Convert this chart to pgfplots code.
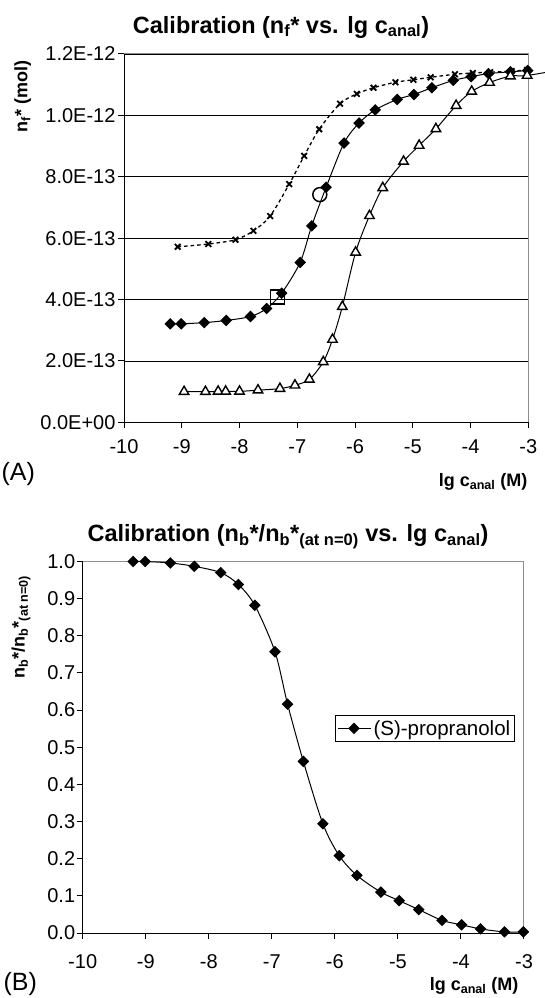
\documentclass[border=0pt]{standalone}
\usepackage{fontspec}
\setmainfont{Liberation Sans}
\usepackage{pgfplots}
\pgfplotsset{compat=1.18}
\begin{document}
\begin{tikzpicture}[x=1pt,y=1pt]
\useasboundingbox (0,0) rectangle (545,998);
% ---------------- (A) ----------------
\begin{axis}[
  at={(124pt,575.6pt)}, anchor=south west, scale only axis,
  width=404.3pt, height=368.4pt,
  xmin=-10, xmax=-3, ymin=0, ymax=1.2e-12,
  scaled y ticks=false,
  xtick={-10,-9,-8,-7,-6,-5,-4,-3},
  xticklabels={-10,-9,-8,-7,-6,-5,-4,-3},
  ytick={0,2e-13,4e-13,6e-13,8e-13,1e-12,1.2e-12},
  yticklabels={0.0E+00,2.0E-13,4.0E-13,6.0E-13,8.0E-13,1.0E-12,1.2E-12},
  ymajorgrids, major grid style={black, line width=0.9pt},
  axis x line*=bottom, axis y line*=left,
  axis line style={black, line width=1pt, -},
  tick style={black, line width=1pt},
  tick align=outside, major tick length=6pt,
  tick label style={font=\fontsize{20}{20}\selectfont},
  yticklabel style={xshift=1pt},
  xticklabel style={yshift=-8pt},
  clip=false,
]
\draw[black!45, line width=1pt] (rel axis cs:0,1) -- (rel axis cs:1,1) -- (rel axis cs:1,0);
% crosses, dashed
\addplot[black, line width=1.3pt, smooth, dash pattern=on 3.5pt off 3pt,
  mark=x, mark size=4pt, mark options={solid, line width=1.8pt}]
coordinates {
(-9.07,5.72e-13) (-8.54,5.81e-13) (-8.07,5.95e-13) (-7.76,6.24e-13) (-7.47,6.72e-13)
(-7.14,7.76e-13) (-6.88,8.68e-13) (-6.62,9.55e-13) (-6.26,10.38e-13) (-5.97,10.70e-13)
(-5.68,10.90e-13) (-5.30,11.08e-13) (-4.99,11.16e-13) (-4.69,11.24e-13) (-4.27,11.34e-13)
(-3.96,11.38e-13) (-3.66,11.41e-13) (-3.29,11.44e-13) (-3.02,11.48e-13)
};
% triangles: line (continues past the frame as in the original)
\addplot[black, line width=1pt, smooth, no marks]
coordinates {
(-8.96,1.00e-13) (-8.59,1.00e-13) (-8.37,1.01e-13) (-8.24,1.01e-13) (-8.00,1.01e-13)
(-7.68,1.05e-13) (-7.30,1.10e-13) (-7.04,1.21e-13) (-6.79,1.40e-13) (-6.55,1.97e-13)
(-6.39,2.70e-13) (-6.22,3.77e-13) (-5.99,5.54e-13) (-5.75,6.73e-13) (-5.52,7.64e-13)
(-5.16,8.50e-13) (-4.89,9.02e-13) (-4.60,9.56e-13) (-4.25,10.32e-13) (-3.98,10.78e-13)
(-3.67,11.07e-13) (-3.31,11.28e-13) (-3.02,11.30e-13) (-2.40,11.50e-13)
};
% diamonds
\addplot[black, line width=1pt, smooth,
  mark=square*, mark size=3.6pt, mark options={rotate=45, fill=black}]
coordinates {
(-9.20,3.21e-13) (-9.01,3.21e-13) (-8.61,3.25e-13) (-8.23,3.32e-13) (-7.81,3.45e-13)
(-7.53,3.71e-13) (-7.27,4.21e-13) (-6.95,5.21e-13) (-6.75,6.40e-13) (-6.50,7.66e-13)
(-6.19,9.10e-13) (-5.93,9.75e-13) (-5.65,10.18e-13) (-5.27,10.52e-13) (-4.98,10.68e-13)
(-4.67,10.90e-13) (-4.30,11.14e-13) (-3.99,11.26e-13) (-3.69,11.36e-13) (-3.31,11.42e-13)
(-3.01,11.46e-13)
};
% triangle marks
\addplot[only marks, black, mark=triangle*, mark size=5.5pt,
  mark options={fill=white, line width=1.4pt}]
coordinates {
(-8.96,1.00e-13) (-8.59,1.00e-13) (-8.37,1.01e-13) (-8.24,1.01e-13) (-8.00,1.01e-13)
(-7.68,1.05e-13) (-7.30,1.10e-13) (-7.04,1.21e-13) (-6.79,1.40e-13) (-6.55,1.97e-13)
(-6.39,2.70e-13) (-6.22,3.77e-13) (-5.99,5.54e-13) (-5.75,6.73e-13) (-5.52,7.64e-13)
(-5.16,8.50e-13) (-4.89,9.02e-13) (-4.60,9.56e-13) (-4.25,10.32e-13) (-3.98,10.78e-13)
(-3.67,11.07e-13) (-3.31,11.28e-13) (-3.02,11.30e-13)
};
% open square and open circle
\addplot[only marks, black, mark=square, mark size=7pt, mark options={line width=1.5pt}]
coordinates {(-7.34,4.08e-13)};
\addplot[only marks, black, mark=o, mark size=7pt, mark options={line width=1.5pt}]
coordinates {(-6.61,7.42e-13)};
\end{axis}
\node[font=\bfseries\fontsize{23.5}{23.5}\selectfont] at (281,971) {Calibration (n\textsubscript{f}* vs. lg c\textsubscript{anal})};
\node[rotate=90, anchor=east, font=\bfseries\fontsize{18}{18}\selectfont] at (22.6,941) {n\textsubscript{f}* (mol)};
\node[anchor=west, font=\fontsize{25}{25}\selectfont] at (-2,524) {(A)};
\node[anchor=east, font=\bfseries\fontsize{18}{18}\selectfont] at (531,516) {lg c\textsubscript{anal} (M)};
% ---------------- (B) ----------------
\begin{axis}[
  at={(82.7pt,65pt)}, anchor=south west, scale only axis,
  width=441.3pt, height=371.5pt,
  xmin=-10, xmax=-3, ymin=0, ymax=1,
  xtick={-10,-9,-8,-7,-6,-5,-4,-3},
  xticklabels={-10,-9,-8,-7,-6,-5,-4,-3},
  ytick={0,0.1,0.2,0.3,0.4,0.5,0.6,0.7,0.8,0.9,1},
  yticklabels={0.0,0.1,0.2,0.3,0.4,0.5,0.6,0.7,0.8,0.9,1.0},
  axis x line*=bottom, axis y line*=left,
  axis line style={black, line width=1pt, -},
  tick style={black, line width=1pt},
  tick align=outside, major tick length=6pt,
  tick label style={font=\fontsize{20}{20}\selectfont},
  yticklabel style={xshift=2pt},
  xticklabel style={yshift=-12pt},
  clip=false,
  legend style={at={(0.572,0.586)}, anchor=north west, draw=black, line width=0.8pt,
    fill=white, font=\fontsize{20.5}{20.5}\selectfont, inner xsep=2pt, inner ysep=2.5pt},
  legend cell align=left,
  legend image code/.code={\draw[#1, mark repeat=2, mark phase=2]
    plot coordinates {(0pt,0pt) (16pt,0pt) (33pt,0pt)};},
]
\draw[black!45, line width=1pt] (rel axis cs:0,1) -- (rel axis cs:1,1) -- (rel axis cs:1,0);
\addplot[black, line width=1pt, smooth,
  mark=square*, mark size=3.6pt, mark options={rotate=45, fill=black}]
coordinates {
(-9.20,1.000) (-9.01,1.000) (-8.61,0.996) (-8.23,0.987) (-7.81,0.970)
(-7.53,0.938) (-7.27,0.882) (-6.95,0.757) (-6.75,0.616) (-6.50,0.462)
(-6.19,0.294) (-5.93,0.208) (-5.65,0.155) (-5.27,0.110) (-4.98,0.087)
(-4.67,0.063) (-4.30,0.034) (-3.99,0.022) (-3.69,0.011) (-3.31,0.003)
(-3.01,0.003)
};
\addlegendentry{(S)-propranolol}
\end{axis}
\node[font=\bfseries\fontsize{23.5}{23.5}\selectfont] at (288,461) {Calibration (n\textsubscript{b}*/n\textsubscript{b}*\textsubscript{(at n=0)} vs. lg c\textsubscript{anal})};
\node[rotate=90, anchor=east, font=\bfseries\fontsize{18}{18}\selectfont] at (21,426) {n\textsubscript{b}*/n\textsubscript{b}*\textsubscript{(at n=0)}};
\node[anchor=west, font=\fontsize{25}{25}\selectfont] at (0,14) {(B)};
\node[anchor=east, font=\bfseries\fontsize{18}{18}\selectfont] at (522,12) {lg c\textsubscript{anal} (M)};
\end{tikzpicture}
\end{document}
